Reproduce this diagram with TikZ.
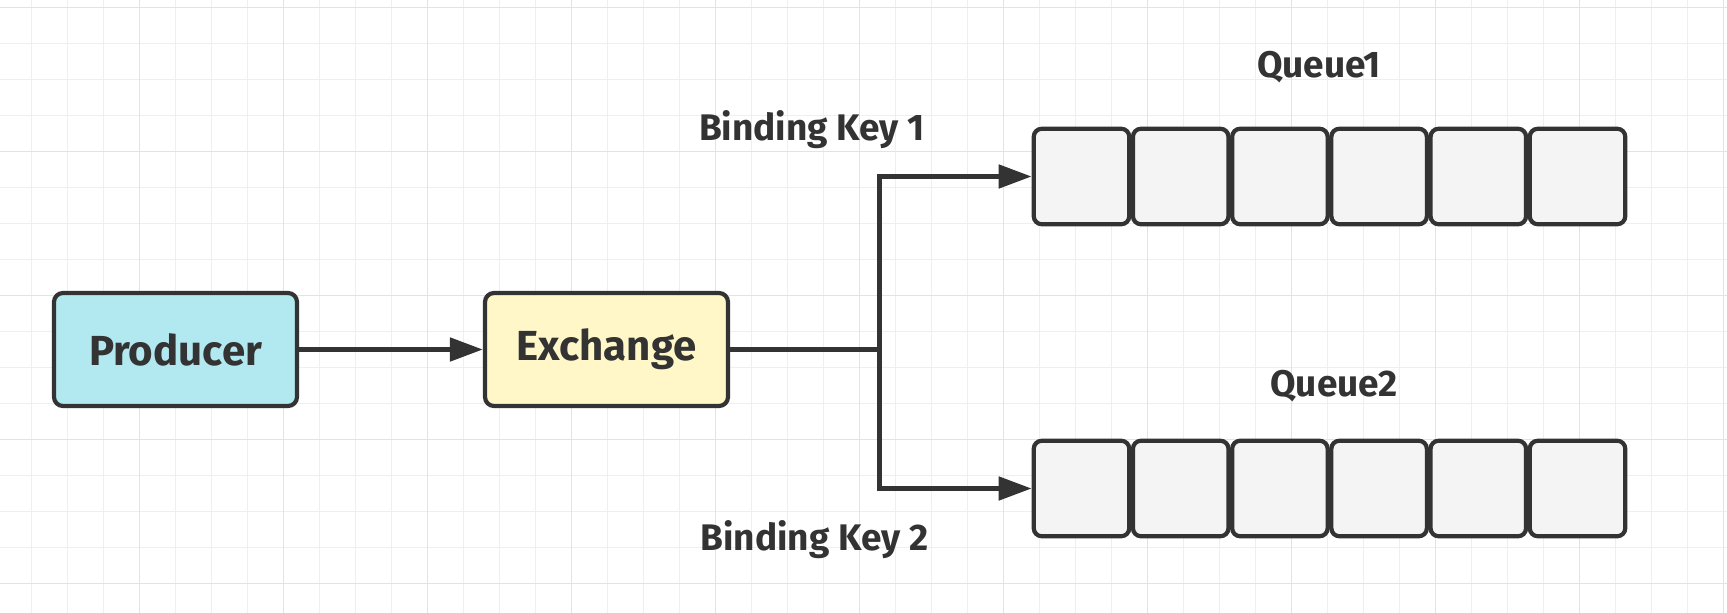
\documentclass[tikz,border=0pt]{standalone}
\usepackage{fontspec}
\setmainfont{Fira Sans}
\usetikzlibrary{arrows.meta}
\definecolor{ink}{HTML}{333333}
\definecolor{prodfill}{HTML}{B2E8F0}
\definecolor{exchfill}{HTML}{FFF7C8}
\definecolor{cellgray}{HTML}{F4F4F4}
\definecolor{gridminor}{HTML}{EFEFEF}
\definecolor{gridmajor}{HTML}{E3E3E3}
\begin{document}
\begin{tikzpicture}[x=1pt,y=-1pt,
  box/.style={draw=ink, line width=4.2pt, rounded corners=9pt, minimum width=243pt, minimum height=113pt, font=\fontsize{42}{48}\selectfont\bfseries, text=ink, inner sep=0pt},
  cell/.style={draw=ink, line width=4.2pt, rounded corners=8pt, fill=cellgray, minimum width=95.5pt, minimum height=95.5pt, inner sep=0pt},
  lbl/.style={font=\fontsize{37}{42}\selectfont\bfseries, text=ink, inner sep=0pt, anchor=base},
  conn/.style={draw=ink, line width=5pt},
  arr/.style={conn, -{Triangle[length=33pt,width=23pt]}},
  gminor/.style={draw=gridminor, line width=1pt},
  gmajor/.style={draw=gridmajor, line width=1.2pt}
]
\useasboundingbox (0,0) rectangle (1727,613);
\fill[white] (0,0) rectangle (1727,613);
% grid
\foreach \i in {0,...,47} \draw[gminor] ({31.7+36*\i},0) -- ({31.7+36*\i},613);
\foreach \i in {0,...,16} \draw[gminor] (0,{7.3+36*\i}) -- (1727,{7.3+36*\i});
\foreach \i in {0,...,11} \draw[gmajor] ({139.7+144*\i},0) -- ({139.7+144*\i},613);
\foreach \i in {0,...,4} \draw[gmajor] (0,{7.3+144*\i}) -- (1727,{7.3+144*\i});
% main boxes
\node[box, fill=prodfill] (prod) at (175.5,349.5) {Producer};
\node[box, fill=exchfill] (exch) at (606.5,349.5) {Exchange};
% queues
\foreach \k/\n in {0/a,1/b,2/c,3/d,4/e,5/f} {
  \node[cell] (q1\n) at ({1081.5+99.2*\k},176.5) {};
  \node[cell] (q2\n) at ({1081.5+99.2*\k},488.5) {};
}
% labels
\node[lbl] (l1) at (1319,77) {Queue1};
\node[lbl] (l2) at (1334,396) {Queue2};
\node[lbl] (k1) at (812,140) {Binding Key 1};
\node[lbl] (k2) at (814.5,550) {Binding Key 2};
% connectors
\coordinate (j) at (879,349.5);
\draw[arr] (prod) -- (exch);
\draw[conn] (exch.east) -- (j);
\draw[arr] (j) |- (q1a.west);
\draw[arr] (j) |- (q2a.west);
\end{tikzpicture}
\end{document}
